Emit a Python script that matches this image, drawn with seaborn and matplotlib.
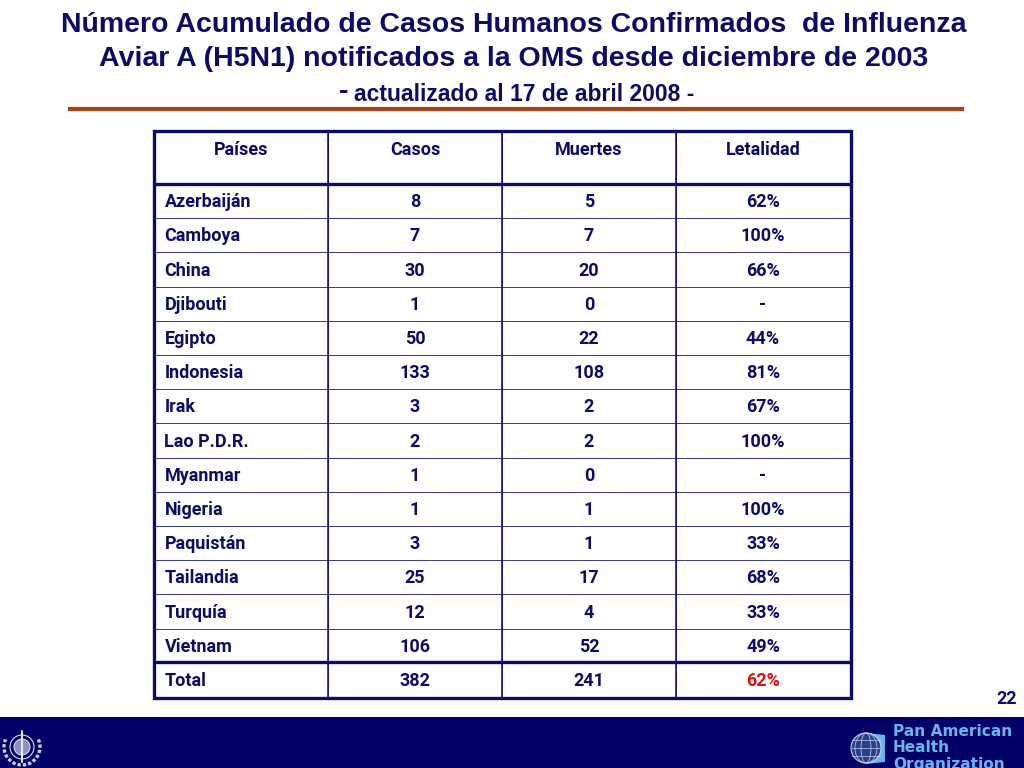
import numpy as np
import pandas as pd
import seaborn as sns
import matplotlib
matplotlib.use("Agg")
import matplotlib.pyplot as plt
from matplotlib.patches import Rectangle, Circle, Ellipse, Polygon, Arc

columns = ["Países", "Casos", "Muertes", "Letalidad"]
countries = ["Azerbaiján", "Camboya", "China", "Djibouti", "Egipto", "Indonesia", "Irak",
             "Lao P.D.R.", "Myanmar", "Nigeria", "Paquistán", "Tailandia", "Turquía", "Vietnam", "Total"]
cases = [8, 7, 30, 1, 50, 133, 3, 2, 1, 1, 3, 25, 12, 106, 382]
deaths = [5, 7, 20, 0, 22, 108, 2, 2, 0, 1, 1, 17, 4, 52, 241]
lethality = ["62%", "100%", "66%", "-", "44%", "81%", "67%", "100%", "-", "100%", "33%", "68%", "33%", "49%", "62%"]
title_lines = ["Número Acumulado de Casos Humanos Confirmados  de Influenza",
               "Aviar A (H5N1) notificados a la OMS desde diciembre de 2003"]
subtitle_dash = "-"
subtitle = "actualizado al 17 de abril 2008 -"
page_number = "22"
org_lines = ["Pan American", "Health", "Organization"]

NAVY = "#0c0c66"
BANNER = "#000066"
RED = "#e01010"
RULE = "#a5431a"
SKY = "#66b5ee"

sns.set_theme(style="white")
TABLE_FONT = ["Roboto", "Liberation Sans", "DejaVu Sans"]
plt.rcParams["font.family"] = ["Liberation Sans", "DejaVu Sans"]
TFS = 13.0

W, H = 1024, 768
fig = plt.figure(figsize=(W / 100, H / 100), dpi=100, facecolor="white")


def px_axes(x0, y0, x1, y1):
    return fig.add_axes([x0 / W, 1 - y1 / H, (x1 - x0) / W, (y1 - y0) / H])


bg = px_axes(0, 0, W, H)
bg.set_xlim(0, W)
bg.set_ylim(H, 0)
bg.axis("off")

bg.text(513.5, 25.5, title_lines[0], ha="center", va="center", fontsize=20.5, fontweight="bold", color=NAVY)
bg.text(514, 59.5, title_lines[1], ha="center", va="center", fontsize=20.5, fontweight="bold", color=NAVY)
bg.text(339, 92, subtitle_dash, ha="left", va="center", fontsize=20.5, fontweight="bold", color=NAVY)
bg.text(354, 94.5, subtitle, ha="left", va="center", fontsize=16.5, fontweight="bold", color=NAVY)
bg.plot([68, 964], [108.5, 108.5], color=RULE, lw=3, solid_capstyle="butt")

# header table (one row) and body table drawn as seaborn heatmaps
head = px_axes(154, 131, 850, 184)
sns.heatmap(np.zeros((1, 4)), ax=head, cmap=["white"], cbar=False, linewidths=0.4, linecolor=NAVY,
            xticklabels=False, yticklabels=False)
for j, name in enumerate(columns):
    head.text(j + .5, .36, name, ha="center", va="center", fontsize=TFS, fontweight="bold",
              family=TABLE_FONT, color=NAVY)

body = px_axes(154, 184, 850, 697)
frame = pd.DataFrame({"c": np.zeros(15), "a": cases, "m": deaths, "l": np.zeros(15)}, index=countries)
sns.heatmap(frame * 0, ax=body, cmap=["white"], cbar=False, linewidths=0.6, linecolor="#3c3c88",
            xticklabels=False, yticklabels=False)
for i, name in enumerate(countries):
    y = i + .53
    body.text(.06, y, name, ha="left", va="center", fontsize=TFS, fontweight="bold", family=TABLE_FONT, color=NAVY)
    body.text(1.5, y, str(cases[i]), ha="center", va="center", fontsize=TFS, fontweight="bold", family=TABLE_FONT, color=NAVY)
    body.text(2.5, y, str(deaths[i]), ha="center", va="center", fontsize=TFS, fontweight="bold", family=TABLE_FONT, color=NAVY)
    body.text(3.5, y, lethality[i], ha="center", va="center", fontsize=TFS, fontweight="bold", family=TABLE_FONT,
              color=RED if name == "Total" else NAVY)

# heavy rules
bg.set_zorder(5)
bg.patch.set_alpha(0)
bg.add_patch(Rectangle((153.5, 130.5), 697, 567, fill=False, ec=NAVY, lw=2.4))
bg.plot([153, 851], [184, 184], color=NAVY, lw=2.4, solid_capstyle="butt")
bg.plot([153, 851], [662, 662], color=NAVY, lw=2.4, solid_capstyle="butt")
for x in (328, 502, 676):
    bg.plot([x, x], [130, 698], color=NAVY, lw=1.1, solid_capstyle="butt")

bg.text(1007, 699.5, page_number, ha="center", va="center", fontsize=TFS, fontweight="bold", family=TABLE_FONT, color=NAVY)

# footer banner
bg.add_patch(Rectangle((0, 717), W, 51, fc=BANNER, ec="none"))
for i, line in enumerate(org_lines):
    bg.text(893, 732 + i * 16, line, ha="left", va="center", fontsize=11.1, fontweight="bold",
            family="DejaVu Sans", color=SKY)

# PAHO globe
bg.add_patch(Polygon([(866, 733), (885, 735), (885, 762), (866, 764)], fc=SKY, ec="none"))
bg.add_patch(Circle((866, 748), 15, fc="#2a3f8c", ec="#c8d0ee", lw=.8))
for w in (5, 11):
    bg.add_patch(Ellipse((866, 748), w * 2, 30, fill=False, ec="#c8d0ee", lw=.5))
for dy in (-8, 0, 8):
    bg.plot([852, 880], [748 + dy, 748 + dy], color="#c8d0ee", lw=.5)

# WHO emblem
bg.add_patch(Circle((22, 747), 12, fill=False, ec="#d8dcf0", lw=.8))
bg.add_patch(Circle((22, 747), 8, fc="#8890c4", ec="#e8eaf6", lw=.7))
bg.add_patch(Arc((22, 747), 36, 36, theta1=-25, theta2=205, ec="#c8cce8", lw=2.4, ls=(0, (1, .6))))
bg.plot([22, 22], [731, 762], color="#eef0fa", lw=1.4)

fig.savefig("out.png", dpi=100, facecolor="white")
